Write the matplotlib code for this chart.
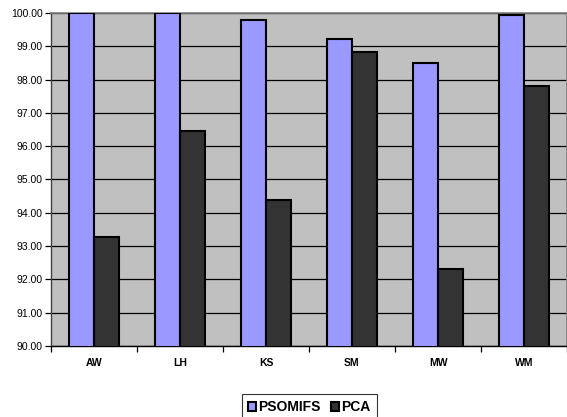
import matplotlib
matplotlib.use("Agg")
import matplotlib.pyplot as plt
import numpy as np

categories = ["AW", "LH", "KS", "SM", "MW", "WM"]
psomifs = [100.00, 100.00, 99.80, 99.22, 98.50, 99.93]
pca = [93.27, 96.47, 94.38, 98.82, 92.30, 97.82]
series_names = ["PSOMIFS", "PCA"]
y_ticks = [90, 91, 92, 93, 94, 95, 96, 97, 98, 99, 100]

plt.rcParams["font.family"] = ["Liberation Sans", "DejaVu Sans"]

W, H = 567, 417
fig = plt.figure(figsize=(W / 100, H / 100), dpi=100)
ax = fig.add_axes([51 / W, (H - 346) / H, 516 / W, 333 / H])
ax.set_facecolor("#C0C0C0")

x = np.arange(len(categories))
bw = 0.285
ax.bar(x - bw / 2, psomifs, width=bw, color="#9999FF", edgecolor="black",
       linewidth=1.5, label=series_names[0], zorder=3)
ax.bar(x + bw / 2, pca, width=bw, color="#333333", edgecolor="black",
       linewidth=1.5, label=series_names[1], zorder=3)

ax.set_ylim(90, 100)
ax.set_xlim(-0.5, len(categories) - 0.5)
ax.set_yticks(y_ticks)
ax.set_yticklabels([f"{v:.2f}" for v in y_ticks], fontsize=7.5)
ax.yaxis.grid(True, color="black", linewidth=0.9, zorder=1)
ax.set_axisbelow(True)

# category labels centred, ticks on the category boundaries
ax.set_xticks(x)
ax.set_xticklabels(categories, fontsize=7.5, fontweight="bold")
ax.tick_params(axis="x", length=0, pad=9)
ax.set_xticks(np.arange(len(categories) + 1) - 0.5, minor=True)
ax.tick_params(axis="x", which="minor", length=4, width=0.9, color="black")
ax.tick_params(axis="y", length=4, width=0.9, color="black", pad=2)

for side in ["top", "right"]:
    ax.spines[side].set_color("#808080")
    ax.spines[side].set_linewidth(1.2)
ax.spines["left"].set_color("#404040")
ax.spines["bottom"].set_color("black")
ax.spines["left"].set_linewidth(1.0)
ax.spines["bottom"].set_linewidth(1.0)

leg = fig.legend(loc="upper left", bbox_to_anchor=(242 / W, 1 - 394 / H),
                 ncol=2, frameon=True, fancybox=False, edgecolor="black",
                 prop={"size": 10, "weight": "bold"}, handlelength=0.55,
                 handleheight=0.55, handletextpad=0.15, columnspacing=0.8,
                 borderpad=0.45, borderaxespad=0)
leg.get_frame().set_linewidth(0.8)
for h in leg.legend_handles:
    h.set_linewidth(1.5)

fig.savefig("out.png", dpi=100)
